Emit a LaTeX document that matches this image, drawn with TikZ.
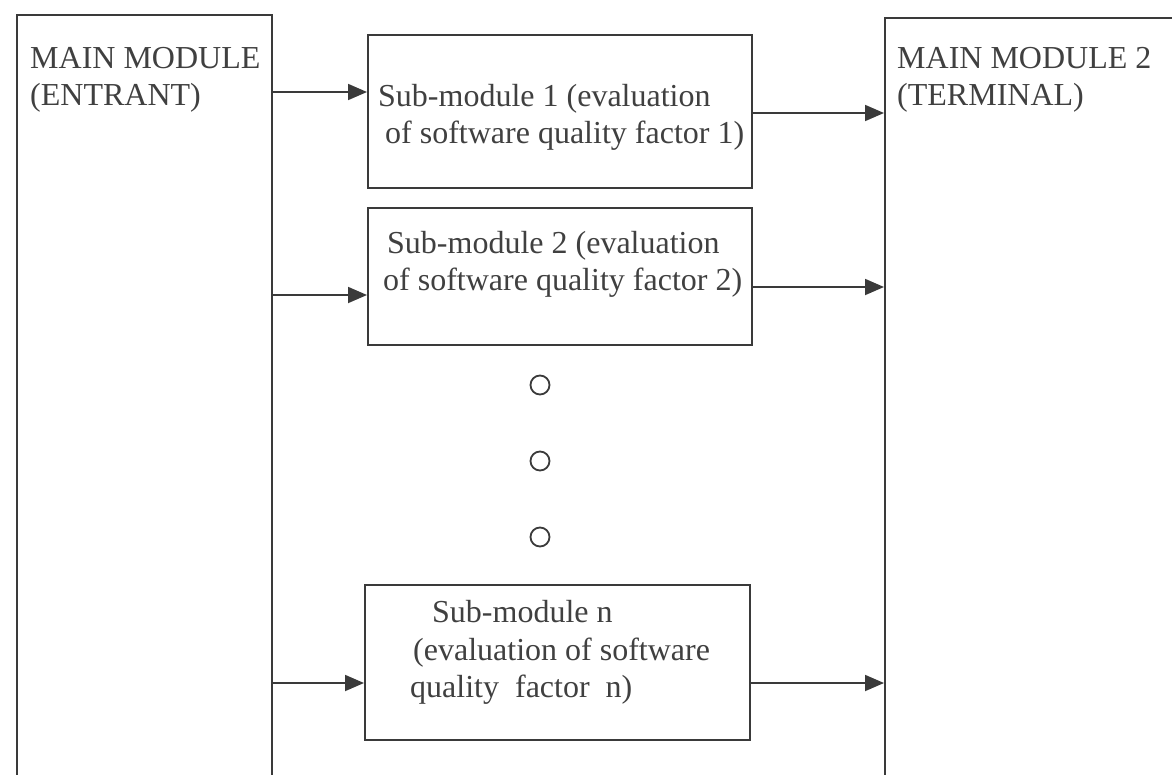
\documentclass[tikz,border=0pt]{standalone}
\usepackage{fontspec}
\setmainfont{Liberation Serif}
\usetikzlibrary{arrows.meta}
\definecolor{linec}{HTML}{3A3A3A}
\definecolor{textc}{HTML}{404040}
\tikzset{
  frame/.style={draw=linec, line width=2pt, rectangle, inner sep=0pt},
  lbl/.style={text=textc, font=\fontsize{32}{38}\selectfont, inner sep=0pt, anchor=base west},
  flow/.style={draw=linec, line width=1.8pt, -{Triangle[length=19pt,width=16pt]}},
  dot/.style={circle, draw=linec, line width=1.8pt, minimum size=19pt, inner sep=0pt}
}
\begin{document}
\begin{tikzpicture}[x=1pt, y=-1pt]
  \useasboundingbox (0,0) rectangle (1172,774);
  \fill[white] (0,0) rectangle (1172,774);
  \clip (0,0) rectangle (1172,774);

  % main modules (they run past the lower edge)
  \node[frame, minimum width=255pt, minimum height=785pt] (entrant) at (144.5,407.5) {};
  \node[frame, minimum width=315pt, minimum height=782pt] (terminal) at (1042.5,409) {};
  \node[lbl] (entA) at (30,68) {MAIN MODULE};
  \node[lbl] (entB) at (30,105) {(ENTRANT)};
  \node[lbl] (terA) at (897,68) {MAIN MODULE 2};
  \node[lbl] (terB) at (897,105) {(TERMINAL)};

  % sub-modules
  \node[frame, minimum width=384pt, minimum height=153pt] (s1) at (560,111.5) {};
  \node[frame, minimum width=384pt, minimum height=137pt] (s2) at (560,276.5) {};
  \node[frame, minimum width=385pt, minimum height=155pt] (sn) at (557.5,662.5) {};

  \node[lbl] (s1a) at (378,106) {Sub-module 1 (evaluation};
  \node[lbl] (s1b) at (385,143) {of software quality factor 1)};
  \node[lbl] (s2a) at (387,253) {Sub-module 2 (evaluation};
  \node[lbl] (s2b) at (383,290) {of software quality factor 2)};
  \node[lbl] (sna) at (432,622) {Sub-module n};
  \node[lbl] (snb) at (413,660) {(evaluation of software};
  \node[lbl] (snc) at (410,697) {quality\ \ factor\ \ n)};

  % ellipsis between the sub-modules
  \node[dot] (d1) at (540,385) {};
  \node[dot] (d2) at (540,461) {};
  \node[dot] (d3) at (540,537) {};

  % flows
  \draw[flow] (entrant.east |- 0,92) -- (s1.west |- 0,92);
  \draw[flow] (s1.east |- 0,113) -- (terminal.west |- 0,113);
  \draw[flow] (entrant.east |- 0,295) -- (s2.west |- 0,295);
  \draw[flow] (s2.east |- 0,287) -- (terminal.west |- 0,287);
  \draw[flow] (entrant.east |- 0,683) -- (sn.west |- 0,683);
  \draw[flow] (sn.east |- 0,683) -- (terminal.west |- 0,683);
\end{tikzpicture}
\end{document}
